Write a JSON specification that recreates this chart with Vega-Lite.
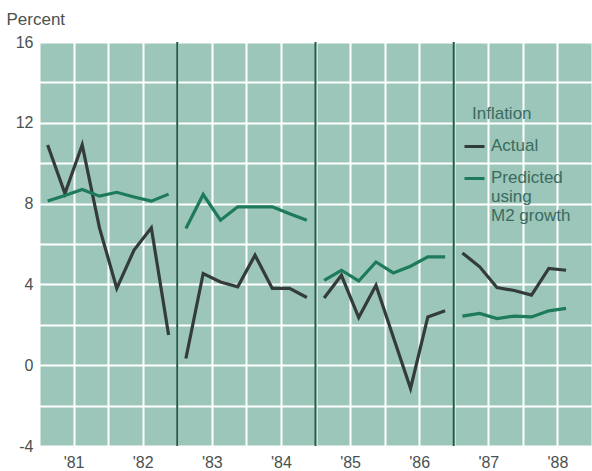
{
  "$schema": "https://vega.github.io/schema/vega-lite/v6.json",
  "width": 553,
  "height": 404,
  "autosize": "none",
  "padding": {"left": 39, "top": 42, "right": 0, "bottom": 25},
  "background": "white",
  "config": {
    "view": {"fill": "#9cc6b9", "stroke": null},
    "font": "Liberation Sans"
  },
  "datasets": {
    "inf": [
      {"t": 1981.125, "g": 1, "s": "Actual", "v": 10.9},
      {"t": 1981.375, "g": 1, "s": "Actual", "v": 8.5},
      {"t": 1981.625, "g": 1, "s": "Actual", "v": 10.9},
      {"t": 1981.875, "g": 1, "s": "Actual", "v": 6.8},
      {"t": 1982.125, "g": 1, "s": "Actual", "v": 3.8},
      {"t": 1982.375, "g": 1, "s": "Actual", "v": 5.7},
      {"t": 1982.625, "g": 1, "s": "Actual", "v": 6.8},
      {"t": 1982.875, "g": 1, "s": "Actual", "v": 1.5},
      {"t": 1983.125, "g": 2, "s": "Actual", "v": 0.33},
      {"t": 1983.375, "g": 2, "s": "Actual", "v": 4.54},
      {"t": 1983.625, "g": 2, "s": "Actual", "v": 4.12},
      {"t": 1983.875, "g": 2, "s": "Actual", "v": 3.88},
      {"t": 1984.125, "g": 2, "s": "Actual", "v": 5.45},
      {"t": 1984.375, "g": 2, "s": "Actual", "v": 3.8},
      {"t": 1984.625, "g": 2, "s": "Actual", "v": 3.8},
      {"t": 1984.875, "g": 2, "s": "Actual", "v": 3.35},
      {"t": 1985.125, "g": 3, "s": "Actual", "v": 3.33},
      {"t": 1985.375, "g": 3, "s": "Actual", "v": 4.45},
      {"t": 1985.625, "g": 3, "s": "Actual", "v": 2.36},
      {"t": 1985.875, "g": 3, "s": "Actual", "v": 3.96},
      {"t": 1986.125, "g": 3, "s": "Actual", "v": 1.4},
      {"t": 1986.375, "g": 3, "s": "Actual", "v": -1.15},
      {"t": 1986.625, "g": 3, "s": "Actual", "v": 2.39},
      {"t": 1986.875, "g": 3, "s": "Actual", "v": 2.69},
      {"t": 1987.125, "g": 4, "s": "Actual", "v": 5.56},
      {"t": 1987.375, "g": 4, "s": "Actual", "v": 4.87},
      {"t": 1987.625, "g": 4, "s": "Actual", "v": 3.84},
      {"t": 1987.875, "g": 4, "s": "Actual", "v": 3.7},
      {"t": 1988.125, "g": 4, "s": "Actual", "v": 3.47},
      {"t": 1988.375, "g": 4, "s": "Actual", "v": 4.79},
      {"t": 1988.625, "g": 4, "s": "Actual", "v": 4.7},
      {"t": 1981.125, "g": 1, "s": "Predicted", "v": 8.13},
      {"t": 1981.375, "g": 1, "s": "Predicted", "v": 8.4},
      {"t": 1981.625, "g": 1, "s": "Predicted", "v": 8.7},
      {"t": 1981.875, "g": 1, "s": "Predicted", "v": 8.37},
      {"t": 1982.125, "g": 1, "s": "Predicted", "v": 8.56},
      {"t": 1982.375, "g": 1, "s": "Predicted", "v": 8.33},
      {"t": 1982.625, "g": 1, "s": "Predicted", "v": 8.12},
      {"t": 1982.875, "g": 1, "s": "Predicted", "v": 8.47},
      {"t": 1983.125, "g": 2, "s": "Predicted", "v": 6.77},
      {"t": 1983.375, "g": 2, "s": "Predicted", "v": 8.45},
      {"t": 1983.625, "g": 2, "s": "Predicted", "v": 7.18},
      {"t": 1983.875, "g": 2, "s": "Predicted", "v": 7.84},
      {"t": 1984.125, "g": 2, "s": "Predicted", "v": 7.84},
      {"t": 1984.375, "g": 2, "s": "Predicted", "v": 7.84},
      {"t": 1984.625, "g": 2, "s": "Predicted", "v": 7.5},
      {"t": 1984.875, "g": 2, "s": "Predicted", "v": 7.18},
      {"t": 1985.125, "g": 3, "s": "Predicted", "v": 4.2},
      {"t": 1985.375, "g": 3, "s": "Predicted", "v": 4.7},
      {"t": 1985.625, "g": 3, "s": "Predicted", "v": 4.17},
      {"t": 1985.875, "g": 3, "s": "Predicted", "v": 5.11},
      {"t": 1986.125, "g": 3, "s": "Predicted", "v": 4.57},
      {"t": 1986.375, "g": 3, "s": "Predicted", "v": 4.9},
      {"t": 1986.625, "g": 3, "s": "Predicted", "v": 5.36},
      {"t": 1986.875, "g": 3, "s": "Predicted", "v": 5.36},
      {"t": 1987.125, "g": 4, "s": "Predicted", "v": 2.43},
      {"t": 1987.375, "g": 4, "s": "Predicted", "v": 2.56},
      {"t": 1987.625, "g": 4, "s": "Predicted", "v": 2.31},
      {"t": 1987.875, "g": 4, "s": "Predicted", "v": 2.43},
      {"t": 1988.125, "g": 4, "s": "Predicted", "v": 2.39},
      {"t": 1988.375, "g": 4, "s": "Predicted", "v": 2.69},
      {"t": 1988.625, "g": 4, "s": "Predicted", "v": 2.81}
    ],
    "seps": [{"t": 1983}, {"t": 1985}, {"t": 1987}]
  },
  "encoding": {
    "x": {
      "field": "t", "type": "quantitative",
      "scale": {"domain": [1981, 1989], "nice": false, "zero": false},
      "axis": {
        "title": null,
        "values": [1981, 1981.5, 1982, 1982.5, 1983, 1983.5, 1984, 1984.5, 1985, 1985.5, 1986, 1986.5, 1987, 1987.5, 1988, 1988.5, 1989],
        "labelExpr": "(datum.value % 1) == 0.5 ? \"'\" + substring(toString(floor(datum.value)), 2, 4) : ''",
        "labelOverlap": false,
        "labelFlush": false,
        "labelFontSize": 16,
        "labelColor": "#4a5150",
        "labelPadding": 8,
        "ticks": false,
        "domain": false,
        "grid": true,
        "gridColor": "white",
        "gridWidth": 2,
        "gridOpacity": 1
      }
    }
  },
  "layer": [
    {
      "data": {"name": "inf"},
      "mark": {"type": "line", "strokeWidth": 3.2, "strokeJoin": "miter"},
      "encoding": {
        "y": {
          "field": "v", "type": "quantitative",
          "scale": {"domain": [-4, 16], "nice": false, "zero": false},
          "axis": {
            "title": "Percent",
            "titleAngle": 0,
            "titleAlign": "left",
            "titleBaseline": "alphabetic",
            "titleX": -33,
            "titleY": -18,
            "titleFontSize": 17,
            "titleFontWeight": "normal",
            "titleColor": "#4a5150",
            "values": [-4, -2, 0, 2, 4, 6, 8, 10, 12, 14, 16],
            "labelExpr": "datum.value % 4 == 0 ? toString(datum.value) : ''",
            "labelFontSize": 16,
            "labelColor": "#4a5150",
            "labelPadding": 6,
            "labelOverlap": false,
            "labelFlush": false,
            "ticks": false,
            "domain": false,
            "grid": true,
            "gridColor": "white",
            "gridWidth": 2,
            "gridOpacity": 1
          }
        },
        "detail": {"field": "g"},
        "color": {
          "field": "s", "type": "nominal",
          "scale": {"domain": ["Actual", "Predicted"], "range": ["#333b3b", "#1d7a5b"]},
          "legend": {
            "title": "Inflation",
            "orient": "none",
            "legendX": 433,
            "legendY": 64,
            "titleFontSize": 17,
            "titleFontWeight": "normal",
            "titleColor": "#3a6b60",
            "titlePadding": 3,
            "labelFontSize": 17,
            "labelColor": "#3a6b60",
            "labelLimit": 300,
            "labelBaseline": "top",
            "labelExpr": "datum.label == 'Predicted' ? ['Predicted', 'using', 'M2 growth'] : datum.label",
            "symbolType": "M-1,0.9L1,0.9",
            "symbolSize": 400,
            "symbolStrokeWidth": 3,
            "symbolOffset": -9,
            "rowPadding": 4,
            "labelOffset": 5
          }
        }
      }
    },
    {
      "data": {"name": "seps"},
      "mark": {"type": "rule", "color": "#1c5d47", "strokeWidth": 2},
      "encoding": {}
    }
  ]
}
